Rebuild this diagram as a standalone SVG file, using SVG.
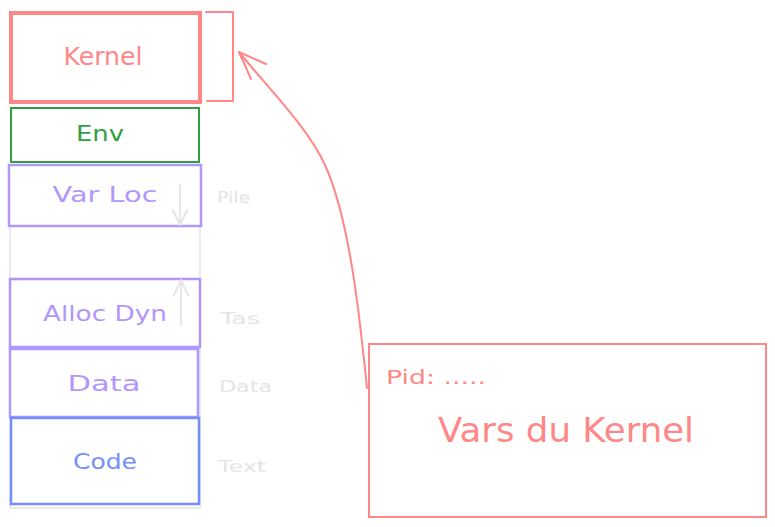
<svg xmlns="http://www.w3.org/2000/svg" width="775" height="527" viewBox="0 0 775 527">
<defs>
<style>
text{font-family:"DejaVu Sans","Liberation Sans",sans-serif;text-anchor:middle;dominant-baseline:central}
.red{stroke:#ff8787;fill:none}
.purple{stroke:#b197fc;fill:none;stroke-width:2.5}
.gray{stroke:#e9ecef;fill:none;stroke-width:2}
.lbl{fill:#e3e5e8;font-size:16px;text-anchor:start}
</style>
</defs>
<rect width="775" height="527" fill="#ffffff"/>
<g id="stack-frame">
<rect class="gray" x="10" y="226" width="190" height="282"/>
</g>
<g id="kernel">
<rect class="red" x="11" y="13" width="189" height="89" stroke-width="4"/>
<text x="103" y="57" font-size="24" fill="#ff8787" textLength="79" lengthAdjust="spacingAndGlyphs">Kernel</text>
</g>
<g id="env">
<rect x="11" y="108" width="188" height="54" fill="none" stroke="#2f9e44" stroke-width="2"/>
<text x="100" y="134" font-size="21" fill="#2f9e44" textLength="48" lengthAdjust="spacingAndGlyphs">Env</text>
</g>
<g id="varloc">
<rect class="purple" x="9" y="165" width="192" height="61"/>
<text x="105" y="195" font-size="21" fill="#b197fc" textLength="105" lengthAdjust="spacingAndGlyphs">Var Loc</text>
</g>
<g id="allocdyn">
<rect class="purple" x="10" y="279" width="190" height="68"/>
<text x="105" y="314" font-size="21" fill="#b197fc" textLength="124" lengthAdjust="spacingAndGlyphs">Alloc Dyn</text>
</g>
<g id="data">
<rect class="purple" x="10" y="349" width="188" height="68"/>
<text x="104" y="384" font-size="21" fill="#b197fc" textLength="73" lengthAdjust="spacingAndGlyphs">Data</text>
</g>
<g id="code">
<rect x="11" y="418" width="188" height="86" fill="none" stroke="#748ffc" stroke-width="2.5"/>
<text x="105" y="462" font-size="21" fill="#748ffc" textLength="64" lengthAdjust="spacingAndGlyphs">Code</text>
</g>
<g id="labels">
<text class="lbl" x="217" y="197" textLength="33" lengthAdjust="spacingAndGlyphs">Pile</text>
<text class="lbl" x="220" y="318" textLength="40" lengthAdjust="spacingAndGlyphs">Tas</text>
<text class="lbl" x="219" y="386" textLength="53" lengthAdjust="spacingAndGlyphs">Data</text>
<text class="lbl" x="218" y="466" textLength="48" lengthAdjust="spacingAndGlyphs">Text</text>
</g>
<g id="kernel-vars">
<rect class="red" x="369" y="344" width="397" height="173" stroke-width="2"/>
<text x="386" y="377" font-size="20" fill="#ff8787" style="text-anchor:start" textLength="100" lengthAdjust="spacingAndGlyphs">Pid: .....</text>
<text x="566" y="430" font-size="33" fill="#ff8787" textLength="256" lengthAdjust="spacingAndGlyphs">Vars du Kernel</text>
</g>
<g id="connectors" fill="none" stroke-linecap="round" stroke-linejoin="round">
<path d="M180 185 V225 M173 210 L180 225 L187 210" stroke="#e6e6e6" stroke-width="2"/>
<path d="M181 325 V280 M174 295 L181 280 L188 295" stroke="#e6e6e6" stroke-width="2"/>
<path d="M206 12 H233 V101 H207" stroke="#ff8787" stroke-width="2"/>
<path d="M367 388 C360 320 350 220 325 165 C308 128 270 90 239 52" stroke="#ff8787" stroke-width="2"/>
<path d="M266 64 L239 52 L251 79" stroke="#ff8787" stroke-width="2"/>
</g>
</svg>
